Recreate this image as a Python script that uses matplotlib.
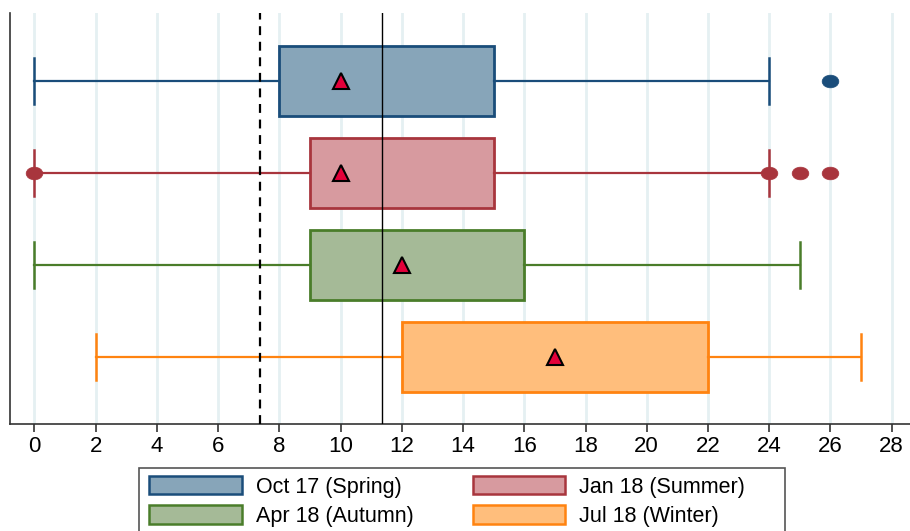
import matplotlib
matplotlib.use("Agg")
import matplotlib.pyplot as plt
from matplotlib.patches import Patch, Rectangle
from matplotlib.path import Path
from matplotlib.transforms import Affine2D

plt.rcParams['font.family'] = ['Liberation Sans', 'DejaVu Sans']

# Survey waves, top to bottom
labels = ["Oct 17 (Spring)", "Jan 18 (Summer)", "Apr 18 (Autumn)", "Jul 18 (Winter)"]
whisker_low = [0, 0, 0, 2]
q1 = [8, 9, 9, 12]
q3 = [15, 15, 16, 22]
whisker_high = [24, 24, 25, 27]
means = [10, 10, 12, 17]
outliers = [[26], [0, 24, 25, 26], [], []]

edge_colors = ["#1a4d7a", "#a8353d", "#4a7d2a", "#ff8310"]
fill_colors = ["#87a5b9", "#d79a9f", "#a5ba97", "#ffbe7c"]

ref_dashed = 7.37
ref_solid = 11.34

# slightly flattened dot for outside values
oval = Path.unit_circle().transformed(Affine2D().scale(1.0, 0.76))

W, H = 910, 531
fig = plt.figure(figsize=(W / 100, H / 100), dpi=100)
ax = fig.add_axes([10 / W, 1 - 424 / H, 1 - 10 / W, (424 - 13) / H])

for i in range(len(labels)):
    stats = [dict(whislo=whisker_low[i], q1=q1[i], med=means[i], q3=q3[i],
                  whishi=whisker_high[i], mean=means[i], fliers=outliers[i])]
    ec = edge_colors[i]
    ax.bxp(stats, positions=[i + 1], widths=0.76, capwidths=0.5,
           orientation='horizontal', patch_artist=True, showmeans=True,
           boxprops=dict(facecolor=fill_colors[i], edgecolor=ec, linewidth=2),
           whiskerprops=dict(color=ec, linewidth=1.6),
           capprops=dict(color=ec, linewidth=1.8),
           medianprops=dict(linewidth=0),
           meanprops=dict(marker='^', markersize=11, markerfacecolor='#e3003a',
                          markeredgecolor='black', markeredgewidth=1.5),
           flierprops=dict(marker=oval, markersize=12, markerfacecolor=ec,
                           markeredgecolor=ec, markeredgewidth=0.5),
           zorder=3)

ax.axvline(ref_dashed, color='black', linestyle=(0, (4, 3)), linewidth=1.6, zorder=4)
ax.axvline(ref_solid, color='black', linewidth=1.0, zorder=4)

ax.set_xlim(-0.8, 28.6)
ax.set_ylim(4.73, 0.26)
ax.set_xticks(range(0, 29, 2))
ax.set_xticklabels([str(v) for v in range(0, 29, 2)], fontsize=16)
ax.set_yticks([])
ax.grid(axis='x', color='#e5f0f2', linewidth=2, zorder=0)
ax.set_axisbelow(True)
for s in ['top', 'right']:
    ax.spines[s].set_visible(False)
for s in ['left', 'bottom']:
    ax.spines[s].set_color('#333333')
    ax.spines[s].set_linewidth(1.2)
ax.tick_params(axis='x', direction='out', length=6, width=1.2, color='#333333', pad=3)

# Legend: two rows, filled row by row
order = [0, 2, 1, 3]
handles = [Patch(facecolor=fill_colors[i], edgecolor=edge_colors[i], linewidth=1.8)
           for i in order]
fs = 15.5
leg = fig.legend(handles, [labels[i] for i in order], loc='upper left', ncol=2,
                 bbox_to_anchor=(149 / W, 1 - 476 / H),
                 fontsize=fs, frameon=False, handlelength=4.3, handleheight=0.93,
                 columnspacing=2.75, handletextpad=0.65, labelspacing=0.36,
                 borderpad=0, borderaxespad=0)

# Legend frame
fig.patches.append(Rectangle((139 / W, -0.02), (785 - 139) / W, 0.02 + (531 - 468) / H,
                             transform=fig.transFigure, fill=False,
                             edgecolor='#555555', linewidth=1.2, zorder=0))

fig.savefig("out.png", dpi=100)
